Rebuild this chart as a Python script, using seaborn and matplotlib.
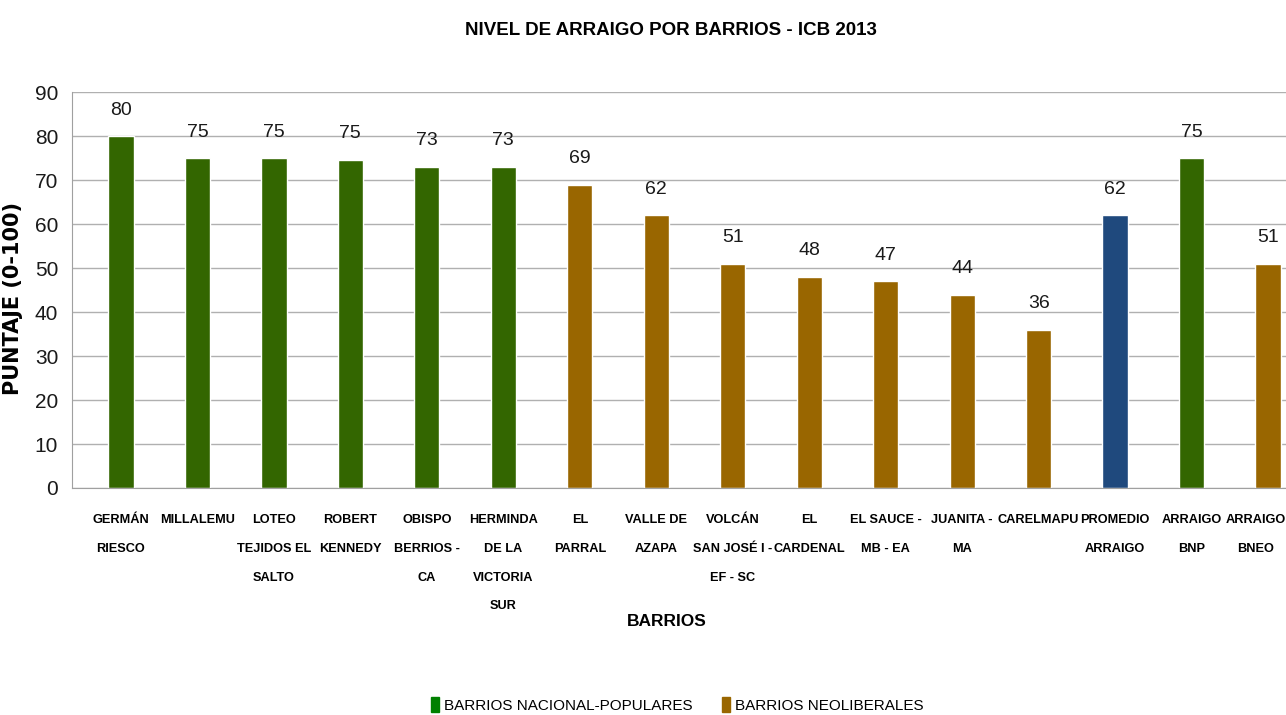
import matplotlib
matplotlib.use("Agg")
import matplotlib.pyplot as plt
import matplotlib.patches as mpatches
import matplotlib.transforms as mtransforms
import pandas as pd
import seaborn as sns

# Chart data
barrios = ["GERMÁN\nRIESCO", "MILLALEMU", "LOTEO\nTEJIDOS EL\nSALTO", "ROBERT\nKENNEDY",
           "OBISPO\nBERRIOS -\nCA", "HERMINDA\nDE LA\nVICTORIA\nSUR", "EL\nPARRAL",
           "VALLE DE\nAZAPA", "VOLCÁN\nSAN JOSÉ I -\nEF - SC", "EL\nCARDENAL",
           "EL SAUCE -\nMB - EA", "JUANITA -\nMA", "CARELMAPU", "PROMEDIO\nARRAIGO",
           "ARRAIGO\nBNP", "ARRAIGO\nBNEO"]
puntaje = [80, 75, 75, 74.7, 73, 73, 69, 62, 51, 48, 47, 44, 36, 62, 75, 51]
etiquetas = ["80", "75", "75", "75", "73", "73", "69", "62", "51", "48", "47", "44", "36", "62", "75", "51"]
grupo = ["NP"] * 6 + ["NEO"] * 7 + ["PROM", "NP", "NEO"]

colores = {"NP": "#336600", "NEO": "#996600", "PROM": "#1F497D"}

df = pd.DataFrame({"barrio": barrios, "puntaje": puntaje, "grupo": grupo})

sns.set_style("white")
plt.rcParams['font.family'] = ['Liberation Sans', 'DejaVu Sans']

fig = plt.figure(figsize=(12.86, 7.15), dpi=100)
ax = fig.add_axes([0.056, 0.3175, 0.944, 0.5535])

sns.barplot(data=df, x="barrio", y="puntaje", hue="grupo", palette=colores,
            width=0.33, dodge=False, legend=False, ax=ax, saturation=1)

for i, (v, t) in enumerate(zip(puntaje, etiquetas)):
    ax.text(i, v + 4.0, t, ha="center", va="bottom", fontsize=14, color="#1a1a1a")

ax.set_ylim(0, 90)
ax.set_yticks(range(0, 91, 10))
ax.set_xlim(-0.64, 15.235)
ax.yaxis.grid(True, color="#b0b0b0", linewidth=1)
ax.set_axisbelow(True)
for s in ["top", "right"]:
    ax.spines[s].set_visible(False)
ax.spines["left"].set_color("#a0a0a0")
ax.spines["bottom"].set_color("#a0a0a0")
ax.tick_params(axis="y", length=6, color="#a0a0a0", labelsize=15, pad=4,
               labelcolor="#1a1a1a")
ax.tick_params(axis="x", length=0, labelsize=9.2, pad=19, labelcolor="#000000")
xlabels = ax.get_xticklabels()
for lbl in xlabels:
    lbl.set_fontweight("bold")
    lbl.set_linespacing(2.85)
# last label sits at the right edge, nudge it in so it is not clipped
xlabels[-1].set_transform(xlabels[-1].get_transform() +
                          mtransforms.ScaledTranslation(-9 / 72, 0, fig.dpi_scale_trans))

ax.set_xlabel("BARRIOS", fontsize=12.5, fontweight="bold", color="#000000")
ax.xaxis.set_label_coords(0.49, -0.338)
ax.xaxis.label.set_va("center")
ax.set_ylabel("PUNTAJE (0-100)", fontsize=15, fontweight="bold",
              family=["DejaVu Sans"], color="#000000")
ax.yaxis.set_label_coords(-0.04, 0.48)

fig.suptitle("NIVEL DE ARRAIGO POR BARRIOS - ICB 2013", fontsize=13.5,
             fontweight="bold", x=0.522, y=0.958, va="center", color="#000000")

handles = [mpatches.Patch(color="#008000", label="BARRIOS NACIONAL-POPULARES"),
           mpatches.Patch(color="#996600", label="BARRIOS NEOLIBERALES")]
fig.legend(handles=handles, loc="center", bbox_to_anchor=(0.5265, 0.014), ncol=2,
           frameon=False, fontsize=11, handlelength=0.55, handleheight=1.1,
           handletextpad=0.3, columnspacing=1.9, labelcolor="#000000")

fig.savefig("out.png", dpi=100)
